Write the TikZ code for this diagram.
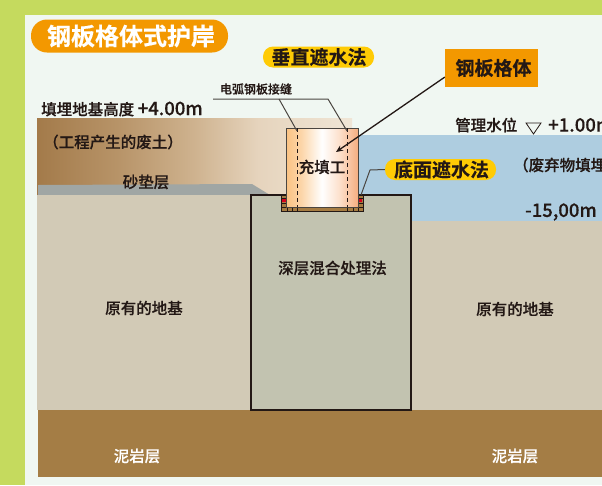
\documentclass[tikz,border=0pt]{standalone}
\usepackage{fontspec}
\setmainfont{Noto Sans CJK SC Medium}[BoldFont={Noto Sans CJK SC Bold},RawFeature={embolden=0.35}]
\usetikzlibrary{arrows.meta}
\definecolor{bgGreen}{HTML}{C5DA5E}
\definecolor{panel}{HTML}{F0F7F2}
\definecolor{orangeTag}{HTML}{F39800}
\definecolor{yellowTag}{HTML}{FFCB05}
\definecolor{ink}{HTML}{231815}
\definecolor{water}{HTML}{AECDE0}
\definecolor{ground}{HTML}{D2CAB6}
\definecolor{core}{HTML}{C2C3B0}
\definecolor{mudstone}{HTML}{A47D45}
\definecolor{sandbed}{HTML}{A0A6A4}
\definecolor{footing}{HTML}{A67C42}
\definecolor{seal}{HTML}{D6001C}
\definecolor{rim}{HTML}{4A4540}
\pgfdeclarehorizontalshading{fillsoil}{100bp}{
  rgb(0bp)=(0.64,0.48,0.29);
  rgb(25bp)=(0.64,0.48,0.29);
  rgb(38bp)=(0.72,0.58,0.41);
  rgb(50bp)=(0.81,0.70,0.56);
  rgb(60bp)=(0.90,0.83,0.74);
  rgb(75bp)=(0.94,0.90,0.84);
  rgb(100bp)=(0.94,0.90,0.84)}
\pgfdeclarehorizontalshading{cellbody}{100bp}{
  rgb(0bp)=(0.98,0.76,0.51);
  rgb(25bp)=(0.98,0.76,0.51);
  rgb(36bp)=(0.99,0.84,0.67);
  rgb(50bp)=(1,1,1);
  rgb(62bp)=(0.99,0.88,0.80);
  rgb(75bp)=(0.96,0.68,0.50);
  rgb(100bp)=(0.96,0.68,0.50)}
\newcommand{\lat}[1]{{\fontsize{18.5}{20}\selectfont #1}}
\tikzset{
  px/.style={x=1pt,y=-1pt},
  lab/.style={inner sep=0pt,text=ink,font=\fontsize{15.5}{16}\selectfont},
  biglab/.style={inner sep=0pt,text=ink,font=\fontsize{19}{20}\selectfont\bfseries},
  whitelab/.style={lab,text=white},
  leader/.style={draw=rim,line width=1pt},
  cuts/.style={draw=ink,line width=0.8pt,dash pattern=on 4pt off 3pt},
  brick/.style={draw=ink,line width=0.7pt,fill=footing}
}
\begin{document}
\begin{tikzpicture}[px]
\useasboundingbox (0,0) rectangle (602,485);
\clip (0,0) rectangle (602,485);
\fill[bgGreen] (0,0) rectangle (602,485);
\fill[panel] (25,15) rectangle (602,485);

% strata and water
\shade[shading=fillsoil] (37,118) rectangle (352,195);
\fill[sandbed] (38,185) -- (252,184) -- (270,195) -- (38,195) -- cycle;
\fill[water] (352,135) rectangle (602,222);
\fill[ground] (37,195) rectangle (251,410);
\fill[ground] (411,221) rectangle (602,410);
\fill[mudstone] (38,410) rectangle (602,477);
\draw[draw=ink,line width=1.1pt,fill=core] (251,195) rectangle (411,410);

% footing of the cell
\draw[brick] (281,195) rectangle (286,198);
\draw[brick] (281,198) rectangle (286,203);
\fill[seal] (282,199) rectangle (285.5,202);
\draw[brick] (281,203) rectangle (286,207);
\draw[brick] (358,195) rectangle (363,198);
\draw[brick] (358,198) rectangle (363,203);
\fill[seal] (358.5,199) rectangle (362,202);
\draw[brick] (358,203) rectangle (363,207);
\draw[brick] (281,207) rectangle (363,211.5);
\foreach \xc in {287,292,297,347,353,358}
  \draw[ink,line width=0.7pt] (\xc,207) -- (\xc,211.5);

% steel sheet cell
\shade[shading=cellbody] (286,128) rectangle (358,207);
\draw[rim,line width=1pt] (286,128) rectangle (358,207);
\draw[cuts] (297,128) -- (297,207);
\draw[cuts] (347,128) -- (347,207);

% title and tags
\node[fill=orangeTag,rounded corners=16pt,minimum width=197pt,minimum height=33pt,inner sep=0pt,
      text=white,font=\fontsize{24}{25}\selectfont\bfseries] (title) at (129.5,36) {\hspace{3pt}钢板格体式护岸};
\node[fill=yellowTag,rounded corners=10pt,minimum width=111pt,minimum height=21pt,biglab] (vertical) at (318.5,57) {\hspace{1pt}垂直遮水法};
\node[fill=orangeTag,minimum width=93pt,minimum height=38pt,biglab] (cellTag) at (491.5,68) {\hspace{4pt}钢板格体};
\node[fill=yellowTag,rounded corners=10pt,minimum width=111pt,minimum height=21pt,biglab] (bottom) at (440.5,169.5) {\hspace{2pt}底面遮水法};

% labels
\node[inner sep=0pt,text=ink,font=\fontsize{12}{13}\selectfont] (joint) at (256,89) {电弧钢板接缝};
\node[lab,anchor=west] (fillHeight) at (41,109) {填埋地基高度 \lat{+4.00m}};
\node[lab] (waste) at (113,142) {（工程产生的废土）};
\node[lab] (sand) at (146,182) {砂垫层};
\node[lab] (infill) at (322,167) {充填工};
\node[lab,anchor=west] (level) at (455,125) {管理水位};
\node[lab,anchor=west] (levelValue) at (548,125) {\lat{+1.00m}};
\node[lab,anchor=west] (landfill) at (513,165) {（废弃物填埋};
\node[lab] (depth) at (561,212) {\lat{-15,00m}};
\node[lab] (mixing) at (332.5,268) {深层混合处理法};
\node[lab] (baseL) at (144,308) {原有的地基};
\node[lab] (baseR) at (515,309) {原有的地基};
\node[whitelab] (mudL) at (137,456) {泥岩层};
\node[whitelab] (mudR) at (515,456) {泥岩层};

% water level mark
\coordinate (tipA) at (526,123);
\coordinate (tipB) at (541,123);
\coordinate (tipC) at (533.5,134);
\draw[ink,line width=0.8pt] (tipA) -- (tipB) -- (tipC) -- cycle;

% leaders
\coordinate (jointL) at (213,99);
\coordinate (jointR) at (328,99);
\coordinate (jointM) at (279,99);
\coordinate (seamL) at (297,131);
\coordinate (seamR) at (347,131);
\draw[leader] (jointL) -- (jointR) -- (seamR);
\draw[leader] (jointM) -- (seamL);
\coordinate (sealEnd) at (361,195);
\coordinate (bend) at (370,170);
\draw[leader] (sealEnd) -- (bend) -- (bottom.west);
\coordinate (cellPoint) at (336,152);
\draw[ink,line width=1.3pt,-{Stealth[length=7pt,width=6pt]}] (cellTag.191) -- (cellPoint);
\end{tikzpicture}
\end{document}
